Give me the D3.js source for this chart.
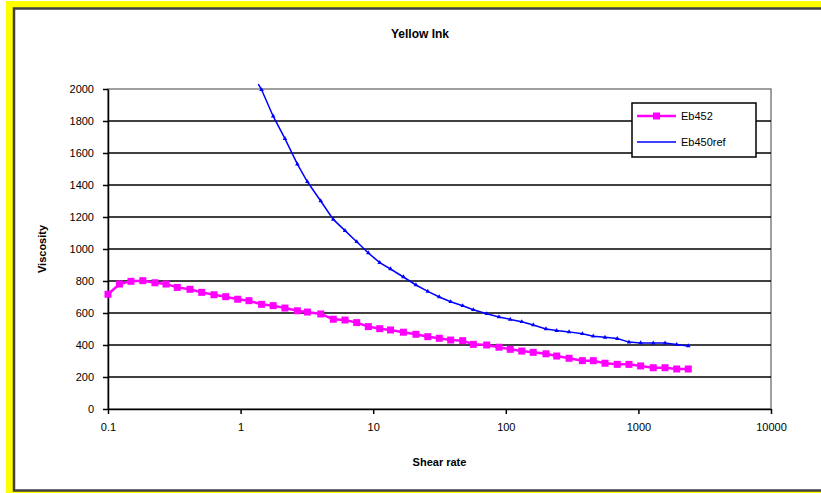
<!DOCTYPE html>
<html>
<head>
<meta charset="utf-8" />
<script src="https://cdn.jsdelivr.net/npm/d3@7"></script>
<style>
  body { margin: 0; background: #fff; }
  svg text { font-family: "Liberation Sans", Arial, sans-serif; fill: #000; }
  .grid line { stroke: #000; stroke-width: 1.5; }
  .axis path, .axis line { stroke: #000; stroke-width: 1.5; }
  .axis text { font-size: 11px; }
</style>
</head>
<body>
<div id="chart"></div>
<script>
// shear rates (x) for the Eb452 run
var shearEb452 = [0.100, 0.122, 0.149, 0.183, 0.226, 0.274, 0.333, 0.415, 0.509, 0.630,
  0.772, 0.951, 1.157, 1.44, 1.76, 2.16, 2.68, 3.19, 4.02, 5.00,
  6.13, 7.51, 9.19, 11.2, 13.5, 16.9, 21.0, 25.8, 31.5, 38.4,
  47.3, 56.9, 71.8, 88.9, 108, 132, 161, 201, 242, 300,
  378, 457, 560, 693, 849, 1040, 1294, 1588, 1945, 2378];
var viscEb452 = [717, 781, 798, 802, 789, 781, 760, 748, 729, 714,
  702, 686, 677, 654, 646, 631, 614, 606, 594, 561,
  556, 540, 515, 502, 494, 480, 467, 452, 442, 431,
  427, 404, 400, 386, 373, 362, 354, 345, 331, 317,
  302, 302, 286, 279, 279, 269, 258, 258, 250, 250];

// reference ink, starts off the top of the scale
var shearEb450 = [1.36, 1.44, 1.76, 2.16, 2.68, 3.19, 4.02, 5.00,
  6.13, 7.51, 9.19, 11.2, 13.5, 16.9, 21.0, 25.8, 31.5, 38.4,
  47.3, 56.9, 71.8, 88.9, 108, 132, 161, 201, 242, 300,
  378, 457, 560, 693, 849, 1040, 1294, 1588, 1945, 2378];
var viscEb450 = [2030, 1995, 1830, 1690, 1530, 1420, 1300, 1185,
  1115, 1045, 975, 915, 875, 825, 775, 735, 700, 670,
  645, 620, 595, 575, 560, 545, 525, 500, 490, 482,
  470, 455, 448, 440, 418, 413, 412, 412, 403, 394];

var xTicks = [0.1, 1, 10, 100, 1000, 10000];
var xTickLabels = ["0.1", "1", "10", "100", "1000", "10000"];
var yTicks = [0, 200, 400, 600, 800, 1000, 1200, 1400, 1600, 1800, 2000];
var seriesNames = ["Eb452", "Eb450ref"];

var W = 821, H = 493;
var plot = { left: 108, right: 771, top: 89, bottom: 409 };

var svg = d3.select("#chart").append("svg")
  .attr("width", W)
  .attr("height", H);

// yellow frame + dark chart border
svg.append("rect").attr("x", 6).attr("y", 1).attr("width", W).attr("height", H)
  .attr("fill", "#ffff00");
svg.append("rect").attr("x", 14).attr("y", 8.5).attr("width", W).attr("height", 482)
  .attr("fill", "#fff").attr("stroke", "#404040").attr("stroke-width", 2.5);

var x = d3.scaleLog().domain([0.1, 10000]).range([plot.left, plot.right]);
var y = d3.scaleLinear().domain([0, 2000]).range([plot.bottom, plot.top]);

// plot area border (gray)
svg.append("rect")
  .attr("x", plot.left).attr("y", plot.top)
  .attr("width", plot.right - plot.left).attr("height", plot.bottom - plot.top)
  .attr("fill", "#fff").attr("stroke", "#808080").attr("stroke-width", 1.5);

// horizontal gridlines
svg.append("g").attr("class", "grid")
  .selectAll("line")
  .data(yTicks.filter(function (d) { return d > 0 && d < 2000; }))
  .enter().append("line")
  .attr("x1", plot.left).attr("x2", plot.right)
  .attr("y1", function (d) { return y(d); })
  .attr("y2", function (d) { return y(d); });

var xAxis = d3.axisBottom(x)
  .tickValues(xTicks)
  .tickFormat(function (d, i) { return xTickLabels[i]; })
  .tickSizeInner(5).tickSizeOuter(0);
svg.append("g").attr("class", "axis")
  .attr("transform", "translate(0," + plot.bottom + ")")
  .call(xAxis)
  .selectAll("text").attr("dy", "1.25em");

var yAxis = d3.axisLeft(y)
  .tickValues(yTicks)
  .tickFormat(d3.format("d"))
  .tickSizeInner(5).tickSizeOuter(0);
svg.append("g").attr("class", "axis")
  .attr("transform", "translate(" + plot.left + ",0)")
  .call(yAxis)
  .selectAll("text").attr("x", -14);

// series
var pink = shearEb452.map(function (s, i) { return [s, viscEb452[i]]; });
var blue = shearEb450.map(function (s, i) { return [s, viscEb450[i]]; });

var line = d3.line()
  .x(function (d) { return x(d[0]); })
  .y(function (d) { return y(d[1]); });

svg.append("path").datum(blue)
  .attr("d", line)
  .attr("fill", "none").attr("stroke", "#0000ff").attr("stroke-width", 1.5);

svg.append("g").selectAll("path")
  .data(blue.slice(1))
  .enter().append("path")
  .attr("d", d3.symbol().type(d3.symbolTriangle).size(9))
  .attr("transform", function (d) { return "translate(" + x(d[0]) + "," + y(d[1]) + ")"; })
  .attr("fill", "#0000ff");

svg.append("path").datum(pink)
  .attr("d", line)
  .attr("fill", "none").attr("stroke", "#ff00ff").attr("stroke-width", 2.5);

svg.append("g").selectAll("rect")
  .data(pink)
  .enter().append("rect")
  .attr("x", function (d) { return x(d[0]) - 3.5; })
  .attr("y", function (d) { return y(d[1]) - 3.5; })
  .attr("width", 7).attr("height", 7)
  .attr("fill", "#ff00ff");

// titles
svg.append("text")
  .attr("x", 420).attr("y", 38)
  .attr("text-anchor", "middle")
  .style("font-size", "12px").style("font-weight", "bold")
  .text("Yellow Ink");

svg.append("text")
  .attr("x", (plot.left + plot.right) / 2).attr("y", 466)
  .attr("text-anchor", "middle")
  .style("font-size", "11px").style("font-weight", "bold")
  .text("Shear rate");

svg.append("text")
  .attr("transform", "translate(46," + (plot.top + plot.bottom) / 2 + ") rotate(-90)")
  .attr("text-anchor", "middle")
  .style("font-size", "11px").style("font-weight", "bold")
  .text("Viscosity");

// legend
var legend = svg.append("g").attr("transform", "translate(632,103)");
legend.append("rect")
  .attr("width", 124).attr("height", 54)
  .attr("fill", "#fff").attr("stroke", "#000").attr("stroke-width", 1.5);

var legendColors = ["#ff00ff", "#0000ff"];
seriesNames.forEach(function (name, i) {
  var ly = 13 + i * 26;
  legend.append("line")
    .attr("x1", 5).attr("x2", 44).attr("y1", ly).attr("y2", ly)
    .attr("stroke", legendColors[i]).attr("stroke-width", i === 0 ? 2.5 : 1.5);
  if (i === 0) {
    legend.append("rect").attr("x", 21).attr("y", ly - 3.5)
      .attr("width", 7).attr("height", 7).attr("fill", legendColors[i]);
  }
  legend.append("text")
    .attr("x", 49).attr("y", ly + 4)
    .style("font-size", "11px")
    .text(name);
});
</script>
</body>
</html>
